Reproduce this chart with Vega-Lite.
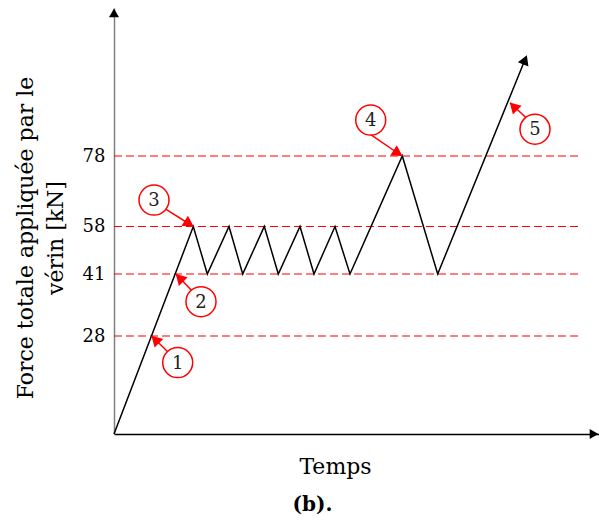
{
  "$schema": "https://vega.github.io/schema/vega-lite/v6.json",
  "width": 485,
  "height": 426,
  "autosize": {"type": "none"},
  "padding": {"left": 114, "top": 8, "right": 0, "bottom": 87},
  "background": "white",
  "view": {"stroke": null},
  "config": {"font": "DejaVu Serif"},
  "title": {"text": "(b).", "orient": "bottom", "anchor": "middle", "dx": -44, "offset": 18, "fontSize": 20, "fontWeight": "bold", "font": "DejaVu Serif", "color": "black"},
  "datasets": {
    "path": [
      {"t": 0, "F": 0}, {"t": 79.3, "F": 58}, {"t": 93.3, "F": 41}, {"t": 115, "F": 58},
      {"t": 128.7, "F": 41}, {"t": 150.3, "F": 58}, {"t": 164.3, "F": 41}, {"t": 186, "F": 58},
      {"t": 200, "F": 41}, {"t": 221, "F": 58}, {"t": 236, "F": 41}, {"t": 288.3, "F": 78},
      {"t": 323.7, "F": 41}, {"t": 412, "F": 106}
    ],
    "levels": [{"F": 28}, {"F": 41}, {"F": 58}, {"F": 78}],
    "circles": [
      {"n": "1", "t": 63.7, "F": 20.4},
      {"n": "2", "t": 87, "F": 35.2},
      {"n": "3", "t": 40, "F": 65.5},
      {"n": "4", "t": 256.7, "F": 88.2},
      {"n": "5", "t": 421, "F": 85.6}
    ],
    "arrows": [
      {"n": "1", "t1": 53.7, "F1": 23.5, "t2": 37.7, "F2": 28},
      {"n": "2", "t1": 78.3, "F1": 37.4, "t2": 62, "F2": 41},
      {"n": "3", "t1": 51.7, "F1": 62.9, "t2": 79.3, "F2": 58},
      {"n": "4", "t1": 256, "F1": 84.2, "t2": 288, "F2": 78},
      {"n": "5", "t1": 412.7, "F1": 88.7, "t2": 396, "F2": 93.1}
    ],
    "heads": [
      {"n": "1", "t": 41.2, "F": 27.0, "dir": "ul"},
      {"n": "2", "t": 65.5, "F": 40.2, "dir": "ul"},
      {"n": "5", "t": 399.5, "F": 92.1, "dir": "ul"},
      {"n": "3", "t": 75.2, "F": 58.8, "dir": "dr"},
      {"n": "4", "t": 284.0, "F": 78.8, "dir": "dr"}
    ],
    "pathHead": [{"t": 411.0, "F": 105.3}],
    "yHead": [{"t": 0, "F": 118.6}],
    "xHead": [{"t": 480, "F": 0}]
  },
  "layer": [
    {
      "data": {"name": "levels"},
      "mark": {"type": "rule", "color": "#ff0000", "strokeWidth": 1.2, "strokeDash": [8, 4]},
      "encoding": {
        "x": {"datum": 0, "type": "quantitative"},
        "x2": {"datum": 464},
        "y": {"field": "F", "type": "quantitative"}
      }
    },
    {
      "data": {"name": "path"},
      "mark": {"type": "line", "color": "black", "strokeWidth": 1.5},
      "encoding": {
        "x": {
          "field": "t", "type": "quantitative",
          "scale": {"domain": [0, 485], "nice": false, "zero": false},
          "axis": {
            "labels": false, "ticks": false, "grid": false,
            "domainColor": "black", "domainWidth": 1.5,
            "title": "Temps", "titleFont": "DejaVu Serif", "titleFontSize": 22, "titleFontWeight": "normal",
            "titleColor": "black", "titleX": 221, "titleY": 39, "titleAlign": "center", "titleBaseline": "alphabetic"
          }
        },
        "y": {
          "field": "F", "type": "quantitative",
          "scale": {"domain": [0, 28, 41, 58, 78, 120], "range": [426, 328, 266, 218.5, 148, 0], "nice": false, "zero": false},
          "axis": {
            "values": [28, 41, 58, 78], "ticks": false, "grid": false,
            "domainColor": "#7f7f7f", "domainWidth": 1.5,
            "labelFont": "DejaVu Serif", "labelFontSize": 18, "labelColor": "black", "labelPadding": 9,
            "title": ["Force totale appliquée par le", "vérin [kN]"],
            "titleFont": "DejaVu Serif", "titleFontSize": 22, "titleFontWeight": "normal", "titleColor": "black",
            "titleAngle": -90, "titleX": -82, "titleY": 229.5, "titleAlign": "center", "titleBaseline": "alphabetic",
            "titleLineHeight": 30
          }
        }
      }
    },
    {
      "data": {"name": "arrows"},
      "mark": {"type": "rule", "color": "#ff0000", "strokeWidth": 1.5},
      "encoding": {
        "x": {"field": "t1", "type": "quantitative"},
        "y": {"field": "F1", "type": "quantitative"},
        "x2": {"field": "t2"},
        "y2": {"field": "F2"}
      }
    },
    {
      "data": {"name": "heads"},
      "transform": [{"filter": "datum.dir === 'ul'"}],
      "mark": {"type": "point", "shape": "triangle-up", "filled": true, "color": "#ff0000", "size": 150, "angle": 315, "opacity": 1},
      "encoding": {
        "x": {"field": "t", "type": "quantitative"},
        "y": {"field": "F", "type": "quantitative"}
      }
    },
    {
      "data": {"name": "heads"},
      "transform": [{"filter": "datum.dir === 'dr'"}],
      "mark": {"type": "point", "shape": "triangle-up", "filled": true, "color": "#ff0000", "size": 150, "angle": 122, "opacity": 1},
      "encoding": {
        "x": {"field": "t", "type": "quantitative"},
        "y": {"field": "F", "type": "quantitative"}
      }
    },
    {
      "data": {"name": "circles"},
      "mark": {"type": "point", "shape": "circle", "filled": false, "fill": "white", "fillOpacity": 1, "stroke": "#ff0000", "strokeWidth": 1.5, "size": 900, "opacity": 1},
      "encoding": {
        "x": {"field": "t", "type": "quantitative"},
        "y": {"field": "F", "type": "quantitative"}
      }
    },
    {
      "data": {"name": "circles"},
      "mark": {"type": "text", "font": "DejaVu Serif", "fontSize": 18, "color": "#222222", "align": "center", "baseline": "middle", "dy": 1},
      "encoding": {
        "x": {"field": "t", "type": "quantitative"},
        "y": {"field": "F", "type": "quantitative"},
        "text": {"field": "n"}
      }
    },
    {
      "data": {"name": "pathHead"},
      "mark": {"type": "point", "shape": "triangle-up", "filled": true, "color": "black", "size": 130, "angle": 22, "opacity": 1},
      "encoding": {
        "x": {"field": "t", "type": "quantitative"},
        "y": {"field": "F", "type": "quantitative"}
      }
    },
    {
      "data": {"name": "yHead"},
      "mark": {"type": "point", "shape": "triangle-up", "filled": true, "color": "black", "size": 100, "angle": 0, "opacity": 1},
      "encoding": {
        "x": {"field": "t", "type": "quantitative"},
        "y": {"field": "F", "type": "quantitative"}
      }
    },
    {
      "data": {"name": "xHead"},
      "mark": {"type": "point", "shape": "triangle-up", "filled": true, "color": "black", "size": 100, "angle": 90, "opacity": 1},
      "encoding": {
        "x": {"field": "t", "type": "quantitative"},
        "y": {"field": "F", "type": "quantitative"}
      }
    }
  ]
}
